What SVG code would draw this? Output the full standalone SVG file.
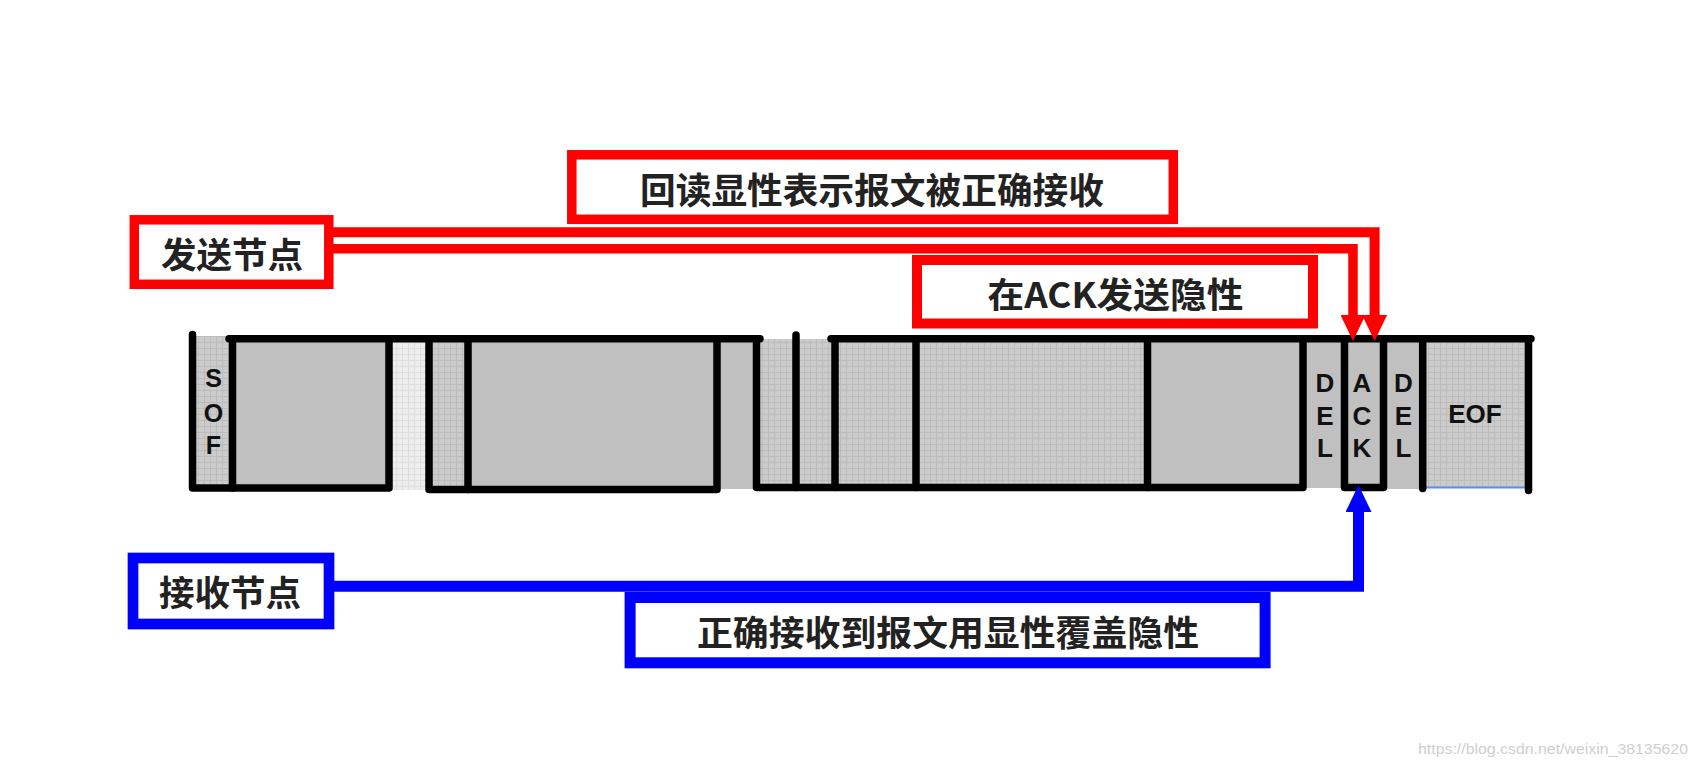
<svg xmlns="http://www.w3.org/2000/svg" width="1698" height="769" viewBox="0 0 1698 769">
<defs>
<pattern id="gridM" width="6" height="6" patternUnits="userSpaceOnUse"><rect width="6" height="6" fill="#cbcbcb"/><path d="M0 0.5H6M0.5 0V6" stroke="#bcbcbc" stroke-width="1"/></pattern>
<pattern id="gridL" width="6" height="6" patternUnits="userSpaceOnUse"><rect width="6" height="6" fill="#ededed"/><path d="M0 0.5H6M0.5 0V6" stroke="#dedede" stroke-width="1"/></pattern>
<marker id="arrR" viewBox="0 0 26 25" refX="0" refY="12.5" markerWidth="26" markerHeight="25" markerUnits="userSpaceOnUse" orient="auto"><path d="M0 0L26 12.5L0 25z" fill="#ff0000"/></marker>
<marker id="arrB" viewBox="0 0 27 26" refX="0" refY="13" markerWidth="27" markerHeight="26" markerUnits="userSpaceOnUse" orient="auto"><path d="M0 0L27 13L0 26z" fill="#0000ff"/></marker>
</defs>
<style>
.solid{fill:#c0c0c0}
.gm{fill:url(#gridM)}
.gl{fill:url(#gridL)}
.fl{fill:none;stroke:#000;stroke-width:7.5;stroke-linejoin:round;stroke-linecap:round}
.lbl{font-family:"Liberation Sans",Arial,sans-serif;font-weight:bold;fill:#111;text-anchor:middle}
.cn{font-family:"Noto Sans CJK SC",sans-serif;font-weight:bold;fill:#222;text-anchor:middle;dominant-baseline:central}
.rbox{fill:#fff;stroke:#ff0000}
.bbox{fill:#fff;stroke:#0000ff}
.rl{fill:none;stroke:#ff0000;stroke-linejoin:miter}
.bl{fill:none;stroke:#0000ff;stroke-linejoin:miter}
</style>
<rect width="1698" height="769" fill="#fff"/>

<g id="frame">
<rect class="gm" x="192.5" y="336" width="40" height="152"/>
<rect class="solid" x="232.5" y="339" width="156.5" height="149"/>
<rect class="gl" x="389" y="339" width="40" height="151"/>
<rect class="gm" x="429" y="339" width="39" height="151"/>
<rect class="solid" x="468" y="339" width="249" height="151"/>
<rect class="solid" x="717" y="339" width="39.5" height="150"/>
<rect class="gm" x="756.5" y="339" width="391" height="149"/>
<rect class="solid" x="1147.5" y="339" width="155.5" height="149"/>
<rect class="solid" x="1303" y="339" width="41.5" height="149"/>
<rect class="solid" x="1344.5" y="339" width="39" height="149"/>
<rect class="solid" x="1383.5" y="339" width="39" height="150"/>
<rect class="gm" x="1422.5" y="339" width="106" height="149"/>
<line x1="1426" y1="487.5" x2="1526" y2="487.5" stroke="#5b8ef0" stroke-width="2"/>

<path class="fl" d="M229 338.7H760M831 338.7H1531"/>
<path class="fl" d="M192.5 334.5V488H389V339"/>
<path class="fl" d="M232.5 339V488"/>
<path class="fl" d="M429 339V489.5H717V339"/>
<path class="fl" d="M468 339V489.5"/>
<path class="fl" d="M756.5 339V487.5H1303V339"/>
<path class="fl" d="M796 335V487.5"/>
<path class="fl" d="M835 339V487.5"/>
<path class="fl" d="M916 339V487.5"/>
<path class="fl" d="M1147.5 339V487.5"/>
<path class="fl" d="M1344.5 339V487.5H1383.5V339"/>
<path class="fl" d="M1422.7 339V488.5"/>
<path class="fl" d="M1528.5 339V490.5"/>

<text class="lbl" font-size="25" x="213.5" y="386.7">S</text>
<text class="lbl" font-size="25" x="213.5" y="421.5">O</text>
<text class="lbl" font-size="25" x="213.5" y="453.5">F</text>
<text class="lbl" font-size="26" x="1325" y="391.7">D</text>
<text class="lbl" font-size="26" x="1325" y="425">E</text>
<text class="lbl" font-size="26" x="1325" y="456.7">L</text>
<text class="lbl" font-size="26" x="1362" y="391.7">A</text>
<text class="lbl" font-size="26" x="1362" y="425">C</text>
<text class="lbl" font-size="26" x="1362" y="456.7">K</text>
<text class="lbl" font-size="26" x="1403.5" y="391.7">D</text>
<text class="lbl" font-size="26" x="1403.5" y="425">E</text>
<text class="lbl" font-size="26" x="1403.5" y="456.7">L</text>
<text class="lbl" font-size="26" x="1475" y="423.3">EOF</text>
</g>

<g id="connectors">
<path class="rl" stroke-width="10" d="M333 232.3H1374.6V315" marker-end="url(#arrR)"/>
<path class="rl" stroke-width="9.5" d="M323 248.7H1353V315" marker-end="url(#arrR)"/>
<path class="bl" stroke-width="11" d="M333 586.2H1358.5V512" marker-end="url(#arrB)"/>
</g>

<g id="node-send">
<rect class="rbox" stroke-width="9.5" x="134.3" y="219.8" width="194.5" height="64.5"/>
<text class="cn" font-size="35" x="232" y="252" textLength="142" lengthAdjust="spacingAndGlyphs">发送节点</text>
</g>

<g id="node-readback">
<rect class="rbox" stroke-width="9.5" x="571.8" y="154.8" width="601.5" height="64.5"/>
<text class="cn" font-size="36" x="872" y="187.5" textLength="464" lengthAdjust="spacingAndGlyphs">回读显性表示报文被正确接收</text>
</g>

<g id="node-ack-recessive">
<rect class="rbox" stroke-width="10" x="917" y="260" width="396" height="63.5"/>
<text class="cn" font-size="35" x="1115.5" y="292" textLength="256" lengthAdjust="spacingAndGlyphs">在ACK发送隐性</text>
</g>

<g id="node-recv">
<rect class="bbox" stroke-width="10.7" x="133" y="558" width="196" height="66"/>
<text class="cn" font-size="35" x="230" y="590" textLength="142" lengthAdjust="spacingAndGlyphs">接收节点</text>
</g>

<g id="node-override">
<rect class="bbox" stroke-width="11" x="630.1" y="597.5" width="635" height="65.3"/>
<text class="cn" font-size="35" x="948" y="630" textLength="502" lengthAdjust="spacingAndGlyphs">正确接收到报文用显性覆盖隐性</text>
</g>

<text x="1688" y="754" font-family="'Liberation Sans',Arial,sans-serif" font-size="15" fill="#cfcfcf" text-anchor="end" textLength="270" lengthAdjust="spacingAndGlyphs">https://blog.csdn.net/weixin_38135620</text>
</svg>
